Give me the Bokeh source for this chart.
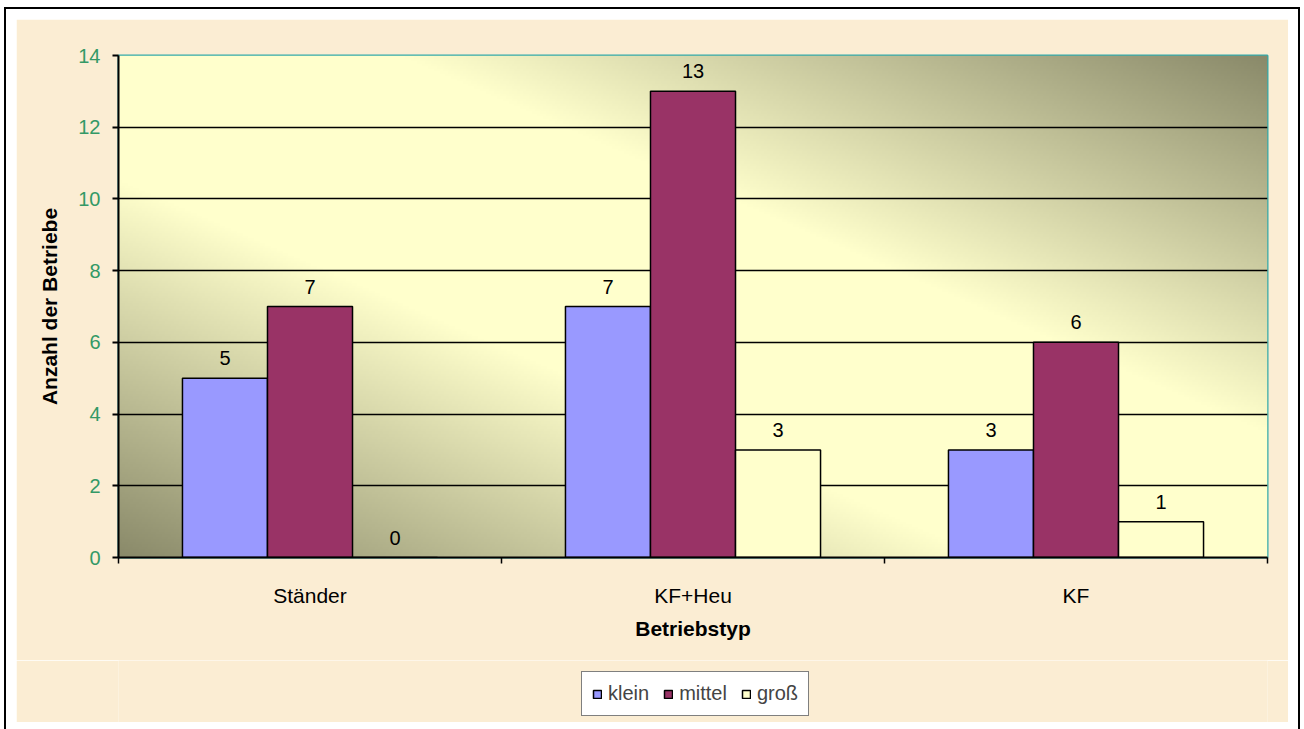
import numpy as np
from bokeh.plotting import figure
from bokeh.layouts import column
from bokeh.core.properties import value
from bokeh.models import (FixedTicker, LabelSet, Legend, LegendItem, Range1d,
                          ColumnDataSource)
from bokeh.embed import file_html
from bokeh.resources import INLINE

# ---- data ----
categories = ["Ständer", "KF+Heu", "KF"]
series = ["klein", "mittel", "groß"]
klein = [5, 7, 3]
mittel = [7, 13, 6]
gross = [0, 3, 1]
colors = ["#9999FF", "#993366", "#FFFFCC"]
y_ticks = [0, 2, 4, 6, 8, 10, 12, 14]
y_max = 14
x_title = "Betriebstyp"
y_title = "Anzahl der Betriebe"

values = [klein, mittel, gross]
n = len(categories)
bar_w = 0.222
offsets = [-bar_w, 0.0, bar_w]
FONT = "Liberation Sans"
PARCH = "#FBEDD3"

p = figure(width=1272, height=641,
           x_range=Range1d(0, n), y_range=Range1d(0, y_max),
           output_backend="svg", toolbar_location=None,
           min_border_left=102, min_border_right=21,
           min_border_top=36, min_border_bottom=103,
           border_fill_color=PARCH, background_fill_color="#FFFFCC")

# gradient background of plot area (light along the falling diagonal,
# darker towards top-right and bottom-left corners)
H, W = 200, 400
u = np.linspace(0, 1, W)[None, :]
v = np.linspace(0, 1, H)[:, None]
d = np.abs(u + v - 1.0)
t = np.clip((d - 0.25) / 0.75, 0, 1)
light = np.array([255, 255, 204], dtype=float)
dark = np.array([138, 138, 106], dtype=float)
rgb = light[None, None, :] + (dark - light)[None, None, :] * t[..., None]
img = np.empty((H, W), dtype=np.uint32)
view = img.view(dtype=np.uint8).reshape((H, W, 4))
view[..., 0:3] = rgb.astype(np.uint8)
view[..., 3] = 255
p.image_rgba(image=[img], x=0, y=0, dw=n, dh=y_max, level="image")

# grid
p.xgrid.visible = False
p.ygrid.ticker = FixedTicker(ticks=y_ticks)
p.ygrid.grid_line_color = "black"
p.ygrid.grid_line_width = 1.5

p.outline_line_color = "#33AAAA"
p.outline_line_width = 2

# bars
sources = []
for j, name in enumerate(series):
    xs = [i + 0.5 + offsets[j] for i in range(n)]
    src = ColumnDataSource(dict(x=xs, top=values[j],
                                lbl=[str(v_) for v_ in values[j]]))
    sources.append(src)
    p.vbar(x="x", top="top", width=bar_w, source=src,
           fill_color=colors[j], line_color="black", line_width=1.5)
    lab = LabelSet(x="x", y="top", text="lbl", source=src,
                   text_align="center", text_baseline="alphabetic",
                   y_offset=13, text_font=value(FONT),
                   text_font_size=value("20px"), text_color="black")
    p.add_layout(lab)

# y axis
p.yaxis.ticker = FixedTicker(ticks=y_ticks)
p.yaxis.axis_label = y_title
p.yaxis.axis_label_text_font = FONT
p.yaxis.axis_label_text_font_size = "21px"
p.yaxis.axis_label_text_font_style = "bold"
p.yaxis.axis_label_text_color = "black"
p.yaxis.axis_label_standoff = 14
p.yaxis.major_label_text_color = "#339966"
p.yaxis.major_label_text_font = FONT
p.yaxis.major_label_text_font_size = "20px"
p.yaxis.major_label_standoff = 12
p.yaxis.axis_line_color = "black"
p.yaxis.axis_line_width = 2
p.yaxis.major_tick_out = 6
p.yaxis.major_tick_in = 0
p.yaxis.major_tick_line_color = "black"
p.yaxis.major_tick_line_width = 2
p.yaxis.minor_tick_line_color = None

# x axis
centers = [i + 0.5 for i in range(n)]
p.xaxis.ticker = FixedTicker(ticks=centers, minor_ticks=list(range(n + 1)))
p.xaxis.major_label_overrides = {c: categories[i] for i, c in enumerate(centers)}
p.xaxis.axis_label = x_title
p.xaxis.axis_label_text_font = FONT
p.xaxis.axis_label_text_font_size = "21px"
p.xaxis.axis_label_text_font_style = "bold"
p.xaxis.axis_label_text_color = "black"
p.xaxis.axis_label_standoff = 7
p.xaxis.major_label_text_font = FONT
p.xaxis.major_label_text_font_size = "21px"
p.xaxis.major_label_text_color = "black"
p.xaxis.major_label_standoff = 20
p.xaxis.axis_line_color = "black"
p.xaxis.axis_line_width = 2
p.xaxis.major_tick_line_color = None
p.xaxis.major_tick_out = 0
p.xaxis.major_tick_in = 0
p.xaxis.minor_tick_line_color = "black"
p.xaxis.minor_tick_line_width = 1.5
p.xaxis.minor_tick_out = 6
p.xaxis.minor_tick_in = 0

# legend strip (separate small figure on the same parchment background;
# its legend proxies are hidden copies of the bar series)
lf = figure(width=1272, height=62, output_backend="svg", toolbar_location=None,
            min_border=0, border_fill_color=PARCH,
            background_fill_color=PARCH,
            x_range=Range1d(0, n), y_range=Range1d(0, y_max))
lf.axis.visible = False
lf.grid.visible = False
lf.outline_line_color = None
items = []
for j, name in enumerate(series):
    r = lf.vbar(x="x", top="top", width=bar_w, source=sources[j],
                fill_color=colors[j], line_color="black", line_width=1.5,
                visible=False)
    items.append(LegendItem(label=name, renderers=[r]))
legend = Legend(items=items, orientation="horizontal", location=(463, 6))
legend.label_text_font = FONT
legend.label_text_font_size = "20px"
legend.glyph_width = 10
legend.glyph_height = 10
legend.label_standoff = 6
legend.spacing = 14
legend.padding = 10
legend.border_line_color = "black"
legend.border_line_width = 1.5
legend.background_fill_color = "white"
legend.background_fill_alpha = 1.0
legend.inactive_fill_alpha = 0.0
legend.click_policy = "none"
lf.add_layout(legend, "center")

layout = column(p, lf, spacing=0,
                styles={"margin-left": "16px", "margin-top": "19px",
                        "outline": "2px solid black",
                        "outline-offset": "10px"})

open("out.html", "w").write(file_html(layout, INLINE))
